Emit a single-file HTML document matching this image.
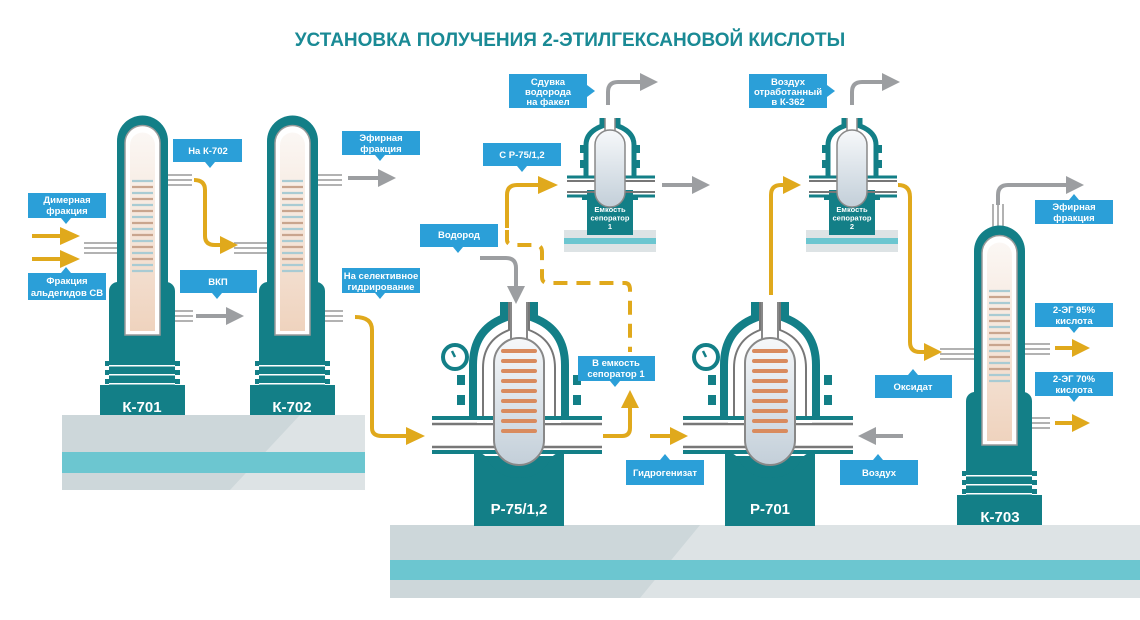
<!DOCTYPE html>
<html><head><meta charset="utf-8"><style>
html,body{margin:0;padding:0;background:#fff;}
svg{display:block;font-family:"Liberation Sans","DejaVu Sans",sans-serif;}
.lb{fill:#2b9fd8}
.lt{fill:#fff;font-weight:bold;font-size:9.5px;text-anchor:middle}
.gold{fill:none;stroke:#e0a91c;stroke-width:4}
.gray{fill:none;stroke:#9c9ea1;stroke-width:4}
.tl{fill:#fff;font-weight:bold;font-size:15px;text-anchor:middle}
</style></head><body>
<svg width="1140" height="620" viewBox="0 0 1140 620" xmlns="http://www.w3.org/2000/svg">
<defs>
<linearGradient id="peach" x1="0" y1="0" x2="0" y2="1"><stop offset="0" stop-color="#fbf7f4"/><stop offset="1" stop-color="#efd3be"/></linearGradient>
<linearGradient id="cap" x1="0" y1="0" x2="0" y2="1"><stop offset="0" stop-color="#f6f8fa"/><stop offset="1" stop-color="#c3cfd9"/></linearGradient>
<g id="col">
 <rect x="9" y="167" width="66" height="110" rx="9" fill="#137f87"/>
 <rect x="5" y="246" width="75" height="5" fill="#137f87"/>
 <rect x="5" y="255" width="75" height="5" fill="#137f87"/>
 <rect x="5" y="264" width="75" height="5" fill="#137f87"/>
 <rect x="9" y="250" width="66" height="1.5" fill="#fff"/>
 <rect x="9" y="259" width="66" height="1.5" fill="#fff"/>
 <rect x="9" y="268" width="66" height="1.5" fill="#fff"/>
 <rect x="0" y="270" width="85" height="30" fill="#137f87"/>
 <path d="M17,246 V26 A25.5,25.5 0 0 1 68,26 V246 Z" fill="#137f87"/>
 <path d="M25,220 V28 A17.5,17.5 0 0 1 60,28 V220 Z" fill="#fff" stroke="#9a9a9a" stroke-width="1.5"/>
 <path d="M30,216 V30 A12.5,12.5 0 0 1 55,30 V216 Z" fill="url(#peach)"/>
 <g stroke-width="2.2">
 <line x1="32" x2="53" y1="66" y2="66" stroke="#a9cbd3"/><line x1="32" x2="53" y1="72" y2="72" stroke="#c9a58e"/>
 <line x1="32" x2="53" y1="78" y2="78" stroke="#a9cbd3"/><line x1="32" x2="53" y1="84" y2="84" stroke="#c9a58e"/>
 <line x1="32" x2="53" y1="90" y2="90" stroke="#a9cbd3"/><line x1="32" x2="53" y1="96" y2="96" stroke="#c9a58e"/>
 <line x1="32" x2="53" y1="102" y2="102" stroke="#a9cbd3"/><line x1="32" x2="53" y1="108" y2="108" stroke="#c9a58e"/>
 <line x1="32" x2="53" y1="114" y2="114" stroke="#a9cbd3"/><line x1="32" x2="53" y1="120" y2="120" stroke="#c9a58e"/>
 <line x1="32" x2="53" y1="126" y2="126" stroke="#a9cbd3"/><line x1="32" x2="53" y1="132" y2="132" stroke="#c9a58e"/>
 <line x1="32" x2="53" y1="138" y2="138" stroke="#a9cbd3"/><line x1="32" x2="53" y1="144" y2="144" stroke="#c9a58e"/>
 <line x1="32" x2="53" y1="150" y2="150" stroke="#a9cbd3"/><line x1="32" x2="53" y1="156" y2="156" stroke="#a9cbd3"/>
 </g>
</g>
<g id="rea">
 <rect x="-45" y="456" width="90" height="70" fill="#137f87"/>
 <rect x="-62" y="375" width="8" height="10" fill="#137f87"/><rect x="-62" y="395" width="8" height="10" fill="#137f87"/>
 <rect x="54" y="375" width="8" height="10" fill="#137f87"/><rect x="54" y="395" width="8" height="10" fill="#137f87"/>
 <path d="M-46,418 V365 Q-46,330 -15,318 V302 M46,418 V365 Q46,330 15,318 V302" fill="none" stroke="#137f87" stroke-width="8"/>
 <path d="M-36,418 V368 Q-36,340 -10,330 V302 M36,418 V368 Q36,340 10,330 V302" fill="none" stroke="#777" stroke-width="2"/>
 <g fill="none">
 <line x1="-87" x2="83" y1="418" y2="418" stroke="#137f87" stroke-width="4"/>
 <line x1="-87" x2="83" y1="424" y2="424" stroke="#777" stroke-width="2.5"/>
 <line x1="-87" x2="83" y1="447" y2="447" stroke="#777" stroke-width="2.5"/>
 <line x1="-87" x2="83" y1="452" y2="452" stroke="#137f87" stroke-width="4"/>
 </g>
 <rect x="-42" y="420" width="84" height="3" fill="#fff"/>
 <path d="M-45,452 Q-34,452 -30,462 Q-20,478 0,478 Q20,478 30,462 Q34,452 45,452 V458 H-45Z" fill="#137f87"/>
 <rect x="-25" y="338" width="50" height="127" rx="25" fill="url(#cap)" stroke="#888" stroke-width="2"/>
 <path d="M-8,302 V340 M8,302 V340" stroke="#888" stroke-width="2"/>
 <g stroke="#d98b5e" stroke-width="4" stroke-linecap="round">
 <line x1="-16" x2="16" y1="351" y2="351"/><line x1="-16" x2="16" y1="361" y2="361"/><line x1="-16" x2="16" y1="371" y2="371"/>
 <line x1="-16" x2="16" y1="381" y2="381"/><line x1="-16" x2="16" y1="391" y2="391"/><line x1="-16" x2="16" y1="401" y2="401"/>
 <line x1="-16" x2="16" y1="411" y2="411"/><line x1="-16" x2="16" y1="421" y2="421"/><line x1="-16" x2="16" y1="431" y2="431"/>
 </g>
 <circle cx="-64" cy="357" r="12" fill="#fff" stroke="#137f87" stroke-width="4"/>
 <line x1="-64" y1="357" x2="-67" y2="351" stroke="#137f87" stroke-width="2.5"/>
</g>
<g id="sep">
 <rect x="-23" y="190" width="46" height="45" fill="#137f87"/>
 <rect x="-30" y="145" width="5" height="8" fill="#137f87"/><rect x="-30" y="160" width="5" height="8" fill="#137f87"/>
 <rect x="25" y="145" width="5" height="8" fill="#137f87"/><rect x="25" y="160" width="5" height="8" fill="#137f87"/>
 <path d="M-24,178 V145 Q-24,132 -8,126 V118 M24,178 V145 Q24,132 8,126 V118" fill="none" stroke="#137f87" stroke-width="5"/>
 <line x1="-43" x2="45" y1="177" y2="177" stroke="#137f87" stroke-width="3"/>
 <line x1="-43" x2="45" y1="181" y2="181" stroke="#777" stroke-width="2"/>
 <line x1="-43" x2="45" y1="192" y2="192" stroke="#777" stroke-width="2"/>
 <line x1="-43" x2="45" y1="196" y2="196" stroke="#137f87" stroke-width="3"/>
 <path d="M-28,196 Q-18,196 -14,202 Q-8,210 0,210 Q8,210 14,202 Q18,196 28,196 V200 H-28Z" fill="#137f87"/>
 <rect x="-15" y="130" width="30" height="77" rx="15" fill="url(#cap)" stroke="#888" stroke-width="1.5"/>
 <path d="M-5,118 V131 M5,118 V131" stroke="#888" stroke-width="1.5"/>
</g>
</defs>

<text x="570" y="46" text-anchor="middle" font-size="19" font-weight="bold" fill="#1a8a95">УСТАНОВКА ПОЛУЧЕНИЯ 2-ЭТИЛГЕКСАНОВОЙ КИСЛОТЫ</text>

<rect x="62" y="415" width="303" height="75" fill="#dde3e5"/>
<polygon points="62,415 300,415 230,490 62,490" fill="#cdd7da"/>
<rect x="62" y="452" width="303" height="21" fill="#6cc6d0"/>
<rect x="390" y="525" width="750" height="73" fill="#dde3e5"/>
<polygon points="390,525 700,525 640,598 390,598" fill="#cdd7da"/>
<rect x="390" y="560" width="750" height="20" fill="#6cc6d0"/>
<rect x="564" y="230" width="92" height="22" fill="#dde3e5"/><rect x="564" y="238" width="92" height="6" fill="#6cc6d0"/>
<rect x="806" y="230" width="92" height="22" fill="#dde3e5"/><rect x="806" y="238" width="92" height="6" fill="#6cc6d0"/>

<g stroke="#999" stroke-width="1.5" fill="none">
 <path d="M84,243 H120 M84,248 H120 M84,253 H120"/>
 <path d="M155,175 H192 M155,180 H192 M155,185 H192"/>
 <path d="M155,311 H193 M155,316 H193 M155,321 H193"/>
 <path d="M234,243 H270 M234,248 H270 M234,253 H270"/>
 <path d="M305,175 H342 M305,180 H342 M305,185 H342"/>
 <path d="M305,311 H343 M305,316 H343 M305,321 H343"/>
 <path d="M940,349 H978 M940,354 H978 M940,359 H978"/>
 <path d="M1015,344 H1050 M1015,349 H1050 M1015,354 H1050"/>
 <path d="M1015,418 H1050 M1015,423 H1050 M1015,428 H1050"/>
 <path d="M993,204 V228 M998,204 V228 M1003,204 V228"/>
</g>
<use href="#col" x="100" y="115"/>
<use href="#col" x="250" y="115"/>
<use href="#col" x="957" y="225"/>
<use href="#rea" x="519" y="0"/>
<use href="#rea" x="770" y="0"/>
<use href="#sep" x="610" y="0"/>
<use href="#sep" x="852" y="0"/>

<text class="tl" x="142" y="412">К-701</text>
<text class="tl" x="292" y="412">К-702</text>
<text class="tl" x="1000" y="522">К-703</text>
<text class="tl" x="519" y="514">Р-75/1,2</text>
<text class="tl" x="770" y="514">Р-701</text>
<g fill="#fff" font-weight="bold" font-size="7.5" text-anchor="middle">
<text x="610" y="212">Емкость</text><text x="610" y="220.5">сепоратор</text><text x="610" y="229">1</text>
<text x="852" y="212">Емкость</text><text x="852" y="220.5">сепоратор</text><text x="852" y="229">2</text>
</g>

<g class="gold">
 <path d="M32,236 H62"/><path d="M32,259 H62"/>
 <path d="M194,180 Q205,180 205,190 V236 Q205,245 215,245 H222"/>
 <path d="M355,317 Q372,317 372,330 V428 Q372,436 382,436 H408"/>
 <path d="M507,228 V195 Q507,185 517,185 H540"/>
 <path d="M507,230 V240 Q507,245 515,245 H535 Q542,245 542,252 V277 Q542,283 548,283 H625 Q630,283 630,290 V352" stroke-dasharray="14,9"/>
 <path d="M603,436 H622 Q630,436 630,428 V405"/>
 <path d="M650,436 H672"/>
 <path d="M771,295 V195 Q771,185 781,185 H785"/>
 <path d="M898,185 Q910,185 910,197 V342 Q910,352 920,352 H926"/>
 <path d="M1055,348 H1075"/><path d="M1055,423 H1075"/>
</g>
<g fill="#e0a91c">
 <polygon points="60,227 80,236 60,245"/><polygon points="60,250 80,259 60,268"/>
 <polygon points="220,236 238,245 220,254"/>
 <polygon points="406,427 425,436 406,445"/>
 <polygon points="538,176 558,185 538,194"/>
 <polygon points="621,408 630,390 639,408"/>
 <polygon points="670,427 688,436 670,445"/>
 <polygon points="783,176 801,185 783,194"/>
 <polygon points="924,343 942,352 924,361"/>
 <polygon points="1072,339 1090,348 1072,357"/><polygon points="1072,414 1090,423 1072,432"/>
</g>
<g class="gray">
 <path d="M348,178 H380"/><path d="M196,316 H228"/>
 <path d="M480,258 H506 Q516,258 516,268 V288"/>
 <path d="M608,105 V92 Q608,82 618,82 H642"/>
 <path d="M662,185 H694"/>
 <path d="M852,105 V92 Q852,82 862,82 H884"/>
 <path d="M903,436 H874"/>
 <path d="M998,205 V195 Q998,185 1008,185 H1068"/>
</g>
<g fill="#9c9ea1">
 <polygon points="378,169 396,178 378,187"/><polygon points="226,307 244,316 226,325"/>
 <polygon points="507,286 516,304 525,286"/>
 <polygon points="640,73 658,82 640,91"/>
 <polygon points="692,176 710,185 692,194"/>
 <polygon points="882,73 900,82 882,91"/>
 <polygon points="876,427 858,436 876,445"/>
 <polygon points="1066,176 1084,185 1066,194"/>
</g>

<g>
 <rect class="lb" x="28" y="193" width="78" height="25"/><polygon class="lb" points="61,218 71,218 66,224"/>
 <text class="lt" x="67" y="203">Димерная</text><text class="lt" x="67" y="214">фракция</text>
 <rect class="lb" x="28" y="273" width="78" height="27"/><polygon class="lb" points="61,273 71,273 66,267"/>
 <text class="lt" x="67" y="284">Фракция</text><text class="lt" x="67" y="296">альдегидов СВ</text>
 <rect class="lb" x="173" y="139" width="69" height="23"/><polygon class="lb" points="205,162 215,162 210,168"/>
 <text class="lt" x="208" y="154">На К-702</text>
 <rect class="lb" x="180" y="270" width="77" height="23"/><polygon class="lb" points="212,293 222,293 217,299"/>
 <text class="lt" x="218" y="285">ВКП</text>
 <rect class="lb" x="342" y="131" width="78" height="24"/><polygon class="lb" points="375,155 385,155 380,161"/>
 <text class="lt" x="381" y="141">Эфирная</text><text class="lt" x="381" y="152">фракция</text>
 <rect class="lb" x="342" y="268" width="78" height="25"/><polygon class="lb" points="375,293 385,293 380,299"/>
 <text class="lt" x="381" y="279">На селективное</text><text class="lt" x="381" y="290">гидрирование</text>
 <rect class="lb" x="483" y="143" width="78" height="23"/><polygon class="lb" points="517,166 527,166 522,172"/>
 <text class="lt" x="522" y="158">С Р-75/1,2</text>
 <rect class="lb" x="420" y="224" width="78" height="23"/><polygon class="lb" points="453,247 463,247 458,253"/>
 <text class="lt" x="459" y="238">Водород</text>
 <rect class="lb" x="509" y="74" width="78" height="34"/><polygon class="lb" points="587,85 587,97 595,91"/>
 <text class="lt" x="548" y="85">Сдувка</text><text class="lt" x="548" y="95">водорода</text><text class="lt" x="548" y="105">на факел</text>
 <rect class="lb" x="749" y="74" width="78" height="34"/><polygon class="lb" points="827,85 827,97 835,91"/>
 <text class="lt" x="788" y="85">Воздух</text><text class="lt" x="788" y="95">отработанный</text><text class="lt" x="788" y="105">в К-362</text>
 <rect class="lb" x="578" y="356" width="77" height="25"/><polygon class="lb" points="610,381 620,381 615,387"/>
 <text class="lt" x="616" y="366">В емкость</text><text class="lt" x="616" y="377">сепоратор 1</text>
 <rect class="lb" x="626" y="460" width="78" height="25"/><polygon class="lb" points="660,460 670,460 665,454"/>
 <text class="lt" x="665" y="476">Гидрогенизат</text>
 <rect class="lb" x="840" y="460" width="78" height="25"/><polygon class="lb" points="873,460 883,460 878,454"/>
 <text class="lt" x="879" y="476">Воздух</text>
 <rect class="lb" x="875" y="375" width="77" height="23"/><polygon class="lb" points="908,375 918,375 913,369"/>
 <text class="lt" x="913" y="390">Оксидат</text>
 <rect class="lb" x="1035" y="200" width="78" height="24"/><polygon class="lb" points="1069,200 1079,200 1074,194"/>
 <text class="lt" x="1074" y="210">Эфирная</text><text class="lt" x="1074" y="221">фракция</text>
 <rect class="lb" x="1035" y="303" width="78" height="24"/><polygon class="lb" points="1069,327 1079,327 1074,333"/>
 <text class="lt" x="1074" y="313">2-ЭГ 95%</text><text class="lt" x="1074" y="324">кислота</text>
 <rect class="lb" x="1035" y="372" width="78" height="24"/><polygon class="lb" points="1069,396 1079,396 1074,402"/>
 <text class="lt" x="1074" y="382">2-ЭГ 70%</text><text class="lt" x="1074" y="393">кислота</text>
</g>
</svg>
</body></html>
